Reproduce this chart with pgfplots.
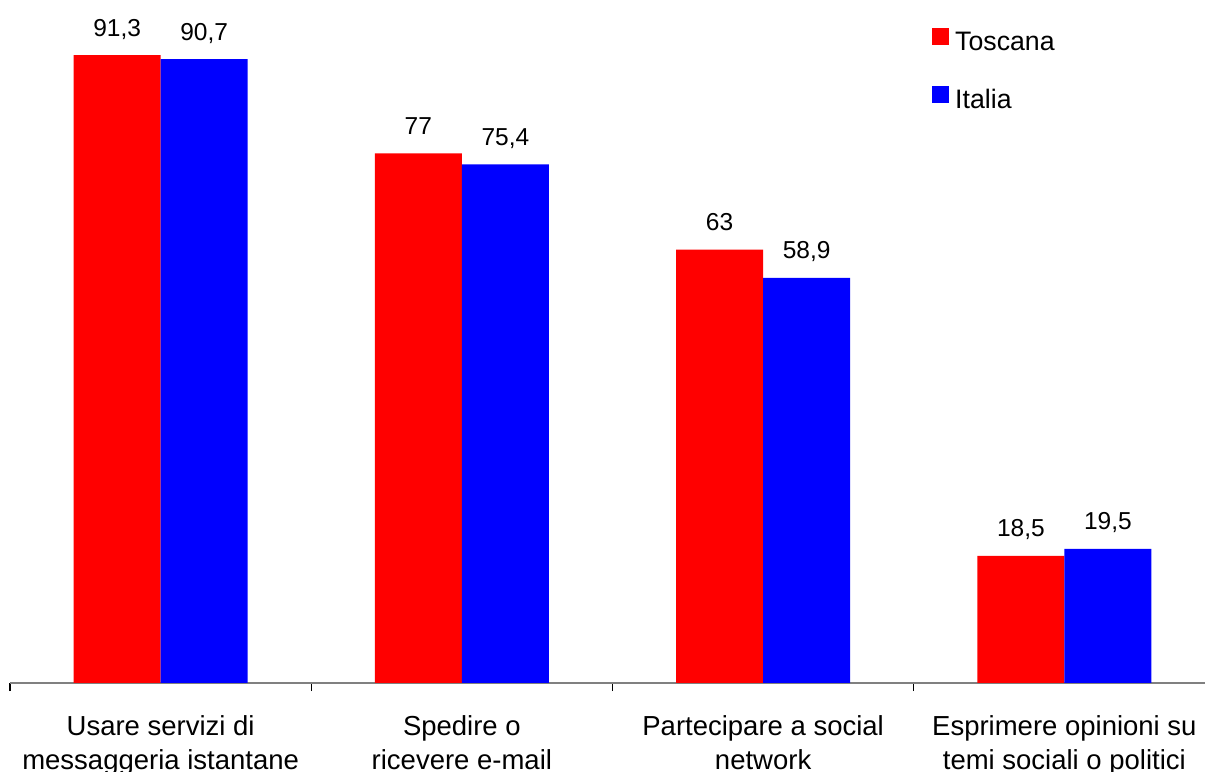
\documentclass[border=0pt]{standalone}
\usepackage{fontspec}
\setmainfont{Liberation Sans}
\usepackage{pgfplots}
\pgfplotsset{compat=1.18}
\definecolor{tosc}{RGB}{255,0,0}
\definecolor{ital}{RGB}{0,0,255}
\definecolor{axisgray}{RGB}{128,128,128}

\begin{document}
\begin{tikzpicture}
\begin{axis}[
  name=ax,
  scale only axis,
  width=602.5bp, height=341.5bp,
  xmin=-0.5, xmax=3.5,
  ymin=0, ymax=99.3,
  ybar=0pt, bar width=43.5bp,
  axis x line*=bottom, axis y line=none,
  axis line style={axisgray, line width=0.6bp},
  xtick={0,1,2,3},
  xticklabels={Usare servizi di\\messaggeria istantane,
               Spedire o\\ricevere e-mail,
               Partecipare a social\\network,
               Esprimere opinioni su\\temi sociali o politici},
  major x tick style={draw=none},
  minor xtick={-0.5,0.5,1.5,2.5,3.5},
  minor tick length=4bp,
  minor x tick style={black, line width=0.6bp},
  tick align=outside,
  x tick label style={align=center, anchor=north, inner sep=0pt, yshift=-12bp,
    font=\fontsize{13.8}{16.8}\selectfont},
  ytick=\empty,
  nodes near coords,
  /pgf/number format/.cd, use comma, fixed, precision=1, assume math mode=true,
  /pgfplots/.cd,
  every node near coord/.append style={anchor=base, yshift=9.5bp, inner sep=0pt,
    font=\fontsize{12.3}{14}\selectfont, black},
  legend style={at={(rel axis cs:0.765,0.96)}, anchor=north west, draw=none, fill=none,
    inner sep=0pt, row sep=14bp, column sep=1bp,
    font=\fontsize{13.4}{16}\selectfont},
  legend cell align=left,
  legend image code/.code={\fill[#1] (0bp,-1.35bp) rectangle (8.5bp,7bp);},
]
\addplot[fill=tosc, draw=none] coordinates {(0,91.3) (1,77) (2,63) (3,18.5)};
\addplot[fill=ital, draw=none] coordinates {(0,90.7) (1,75.4) (2,58.9) (3,19.5)};
\legend{Toscana, Italia}
\end{axis}
\pgfresetboundingbox
\path ([xshift=-5bp,yshift=-44.5bp]ax.south west) rectangle ([xshift=-5bp]ax.north east);
\end{tikzpicture}
\end{document}
